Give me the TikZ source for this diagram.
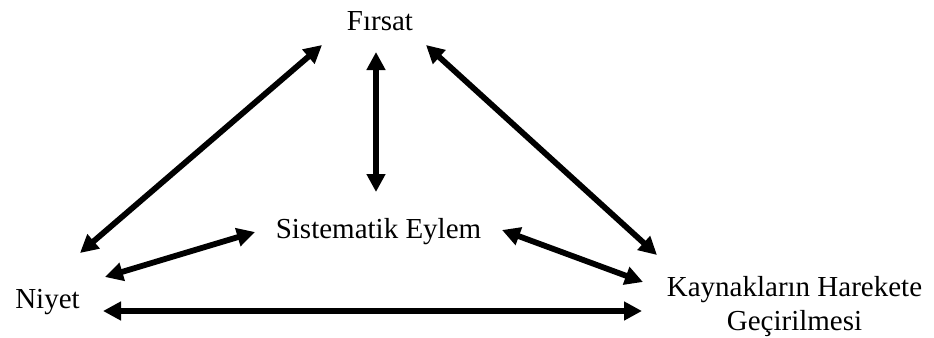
\documentclass[tikz,border=0pt]{standalone}
\usepackage{fontspec}
\setmainfont{Liberation Serif}
\usepackage{tikz}
\usetikzlibrary{arrows.meta,positioning}

\begin{document}
\begin{tikzpicture}[x=0.5pt,y=-0.5pt,
    label/.style={inner sep=0pt,anchor=base,align=center,font=\fontsize{14.5}{16.6}\selectfont},
    link/.style={{Triangle[length=9pt,width=9pt]}-{Triangle[length=9pt,width=9pt]},line width=2.9pt}]
    \useasboundingbox (0,0) rectangle (934,338);

    % Four concepts
    \node[label] (firsat) at (380,30) {Fırsat};
    \node[label] (eylem) at (378.5,238) {Sistematik Eylem};
    \node[label] (niyet) at (47.5,308) {Niyet};
    \node[label] (kaynak) at (794.5,330) {Kaynakların Harekete\\Geçirilmesi};

    % Arrows
    \draw[link] ([shift={(32.5,-55)}]niyet.base) -- ([shift={(-58,15)}]firsat.base);
    \draw[link] ([shift={(-4,22)}]firsat.base) -- ([shift={(-2.5,-46)}]eylem.base);
    \draw[link] ([shift={(46,15)}]firsat.base) -- ([shift={(-137.5,-75)}]kaynak.base);
    \draw[link] ([shift={(57.5,-31)}]niyet.base) -- ([shift={(-123.5,-6)}]eylem.base);
    \draw[link] ([shift={(123.5,-8)}]eylem.base) -- ([shift={(-151.5,-48)}]kaynak.base);
    \draw[link] ([shift={(55.5,3)}]niyet.base) -- ([shift={(-152.5,-19)}]kaynak.base);
\end{tikzpicture}
\end{document}
